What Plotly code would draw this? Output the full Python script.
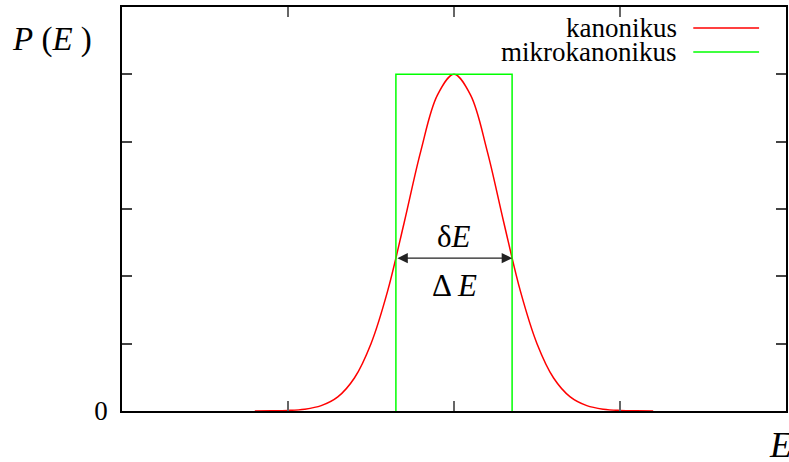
import plotly.graph_objects as go

# Canonical distribution
E_vals = [-1.2, -1.1, -1.0, -0.9, -0.8, -0.7, -0.6, -0.5, -0.4, -0.3, -0.2, -0.1, 0.0,
          0.1, 0.2, 0.3, 0.4, 0.5, 0.6, 0.7, 0.8, 0.9, 1.0, 1.1, 1.2]
P_kanon = [0.0005, 0.002, 0.008, 0.027, 0.08, 0.21, 0.49, 1.00, 1.78, 2.80, 3.86, 4.69, 5.0,
           4.69, 3.86, 2.80, 1.78, 1.00, 0.49, 0.21, 0.08, 0.027, 0.008, 0.002, 0.0005]

# Microcanonical box
box_E = [-0.35, -0.35, 0.35, 0.35]
box_P = [0.0, 5.0, 5.0, 0.0]
arrow_level = 2.27

x_ticks = [-1, 0, 1]
y_ticks = [0, 1, 2, 3, 4, 5]
y_ticktext = ["0", "", "", "", "", ""]

SERIF = "Liberation Serif, Times New Roman, Times, serif"

fig = go.Figure()
fig.add_trace(go.Scatter(x=E_vals, y=P_kanon, mode="lines", line=dict(color="#ff0000", width=1.5, shape="spline"),
                         name="kanonikus", showlegend=False, hoverinfo="skip"))
fig.add_trace(go.Scatter(x=box_E, y=box_P, mode="lines", line=dict(color="#00ff00", width=1.5),
                         name="mikrokanonikus", showlegend=False, hoverinfo="skip"))

# double-headed arrow between box edges
fig.add_annotation(x=box_E[2], y=arrow_level, ax=box_E[0], ay=arrow_level, xref="x", yref="y",
                   axref="x", ayref="y", text="", showarrow=True, arrowhead=2, arrowside="end+start",
                   arrowsize=1.6, arrowwidth=1.3, arrowcolor="#222222")
fig.add_annotation(x=0, y=arrow_level, xref="x", yref="y", text="δ<i>E</i>", showarrow=False,
                   yshift=22, font=dict(family=SERIF, size=31, color="black"))
fig.add_annotation(x=0, y=arrow_level, xref="x", yref="y", text="Δ <i>E</i>", showarrow=False,
                   yshift=-27, font=dict(family=SERIF, size=31, color="black"))

# axis titles
fig.add_annotation(x=-0.105, y=0.92, xref="paper", yref="paper", text="<i>P</i> (<i>E</i> )",
                   showarrow=False, xanchor="center", yanchor="middle",
                   font=dict(family=SERIF, size=33, color="black"))
fig.add_annotation(x=0.972, y=-0.03, xref="paper", yref="paper", text="<i>E</i>",
                   showarrow=False, xanchor="left", yanchor="top",
                   font=dict(family=SERIF, size=36, color="black"))

# legend (text right, sample line right)
legend_items = [("kanonikus", "#ff0000"), ("mikrokanonikus", "#00ff00")]
for i, (name, col) in enumerate(legend_items):
    ypix = 28 + 24 * i
    yp = 1 - (ypix - 7) / 404
    fig.add_annotation(x=(681 - 122) / 666, y=yp, xref="paper", yref="paper", text=name,
                       showarrow=False, xanchor="right", yanchor="middle", height=24,
                       font=dict(family=SERIF, size=27, color="black"))
    fig.add_shape(type="line", xref="paper", yref="paper", x0=(695 - 122) / 666, x1=(761 - 122) / 666,
                  y0=yp, y1=yp, line=dict(color=col, width=1.5))

fig.update_xaxes(range=[-2, 2], tickvals=x_ticks, showticklabels=False, ticks="inside", ticklen=10,
                 tickcolor="#666666", tickwidth=1.5, showline=True, linecolor="black", linewidth=1.5,
                 mirror="ticks", showgrid=False, zeroline=False)
fig.update_yaxes(range=[0, 6], tickvals=y_ticks, ticktext=y_ticktext, ticks="inside", ticklen=10,
                 tickcolor="#444444", tickwidth=1.5, showline=True, linecolor="black", linewidth=1.5,
                 mirror="ticks", showgrid=False, zeroline=False, ticklabelstandoff=7,
                 tickfont=dict(family=SERIF, size=27, color="black"))

fig.update_layout(width=789, height=462, margin=dict(l=122, r=1, t=7, b=51),
                  plot_bgcolor="white", paper_bgcolor="white", showlegend=False)

fig.write_html("out.html", config={"displayModeBar": False},
               post_script="document.body.style.margin='0';")
